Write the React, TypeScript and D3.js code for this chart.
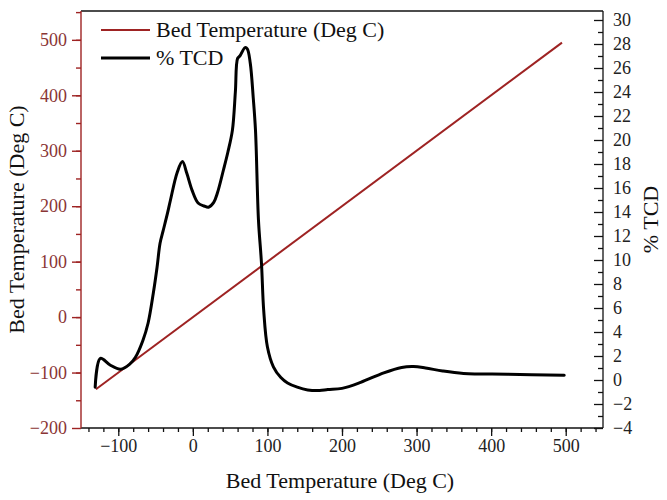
import { useEffect, useRef } from "react";
import * as d3 from "d3";

// bed temperature sweep (the reference line is temperature vs itself)
const bedTempRange = [-130, 495];

// % TCD signal sampled along the bed temperature
const tcdTemps = [
  -131, -124, -111, -97, -85, -77, -67, -60, -53, -48, -44, -40, -34, -30, -21, -14, -8, -1, 7, 15,
  21, 28, 33, 41, 47, 53, 57, 60, 63, 70, 73, 77, 81, 84, 88, 92, 95, 100, 108, 118, 127, 140, 154,
  170, 181, 200, 225, 256, 280, 296, 312, 335, 363, 422, 498,
];
const tcdValues = [
  -0.6, 1.8, 1.25, 0.9, 1.3, 1.9, 3.3, 4.75, 7.25, 9.4, 11.4, 12.4, 13.9, 15, 17.3, 18.2, 17.2, 15.8,
  14.75, 14.5, 14.4, 14.8, 15.6, 17.5, 19, 20.8, 24, 26.8, 27.0, 27.7, 27.6, 26.4, 23.5, 20.8, 13.3,
  9.75, 5.8, 2.75, 1.1, 0.2, -0.25, -0.6, -0.83, -0.88, -0.8, -0.7, -0.2, 0.6, 1.05, 1.12, 1.0, 0.75,
  0.55, 0.48, 0.4,
];

const xTicks = [-100, 0, 100, 200, 300, 400, 500];
const leftTicks = [-200, -100, 0, 100, 200, 300, 400, 500];
const rightTicks = [-4, -2, 0, 2, 4, 6, 8, 10, 12, 14, 16, 18, 20, 22, 24, 26, 28, 30];

const seriesNames = ["Bed Temperature (Deg C)", "% TCD"];

export default function App() {
  const svgRef = useRef<SVGSVGElement | null>(null);

  useEffect(() => {
    const width = 667;
    const height = 500;
    const left = 81;
    const right = 603;
    const top = 11;
    const bottom = 428;
    const font = "'Liberation Serif', 'Times New Roman', serif";
    const red = "#9e2323";
    const redText = "#8a3535";
    const minus = (d: d3.NumberValue) => d3.format("d")(d as number).replace("-", "\u2212");

    const svg = d3.select(svgRef.current);
    svg.selectAll("*").remove();
    svg.attr("width", width).attr("height", height).attr("viewBox", `0 0 ${width} ${height}`)
      .attr("font-family", font);

    const x = d3.scaleLinear().domain([-150, 550]).range([left, right]);
    const yL = d3.scaleLinear().domain([-200, 552]).range([bottom, top]);
    const yR = d3.scaleLinear().domain([-4, 30.75]).range([bottom, top]);

    // top frame line
    svg.append("line")
      .attr("x1", left).attr("x2", right)
      .attr("y1", top).attr("y2", top)
      .attr("stroke", "#111").attr("stroke-width", 1.3);

    // bottom axis: majors every 100, minors every 20
    const gx = svg.append("g").attr("transform", `translate(0,${bottom})`);
    gx.call(d3.axisBottom(x).tickValues(d3.range(-140, 550, 20)).tickSize(4).tickFormat(() => ""))
      .call(g => g.select(".domain").remove());
    gx.append("g")
      .call(d3.axisBottom(x).tickValues(xTicks).tickSize(8).tickPadding(3).tickFormat(minus))
      .call(g => g.select(".domain").remove());
    gx.append("line").attr("x1", left).attr("x2", right);
    gx.selectAll("line").attr("stroke", "#111").attr("stroke-width", 1.3);
    gx.selectAll("g").attr("font-family", font);
    gx.selectAll("text").attr("fill", "#222").style("font-family", font).style("font-size", "18px");

    // left axis (bed temperature), dark red
    const gl = svg.append("g").attr("transform", `translate(${left},0)`);
    gl.call(d3.axisLeft(yL).tickValues(d3.range(-150, 552, 50)).tickSize(5).tickFormat(() => ""))
      .call(g => g.select(".domain").remove());
    gl.append("g")
      .call(d3.axisLeft(yL).tickValues(leftTicks).tickSize(9).tickPadding(5).tickFormat(minus))
      .call(g => g.select(".domain").remove());
    gl.append("line").attr("y1", top).attr("y2", bottom);
    gl.selectAll("line").attr("stroke", red).attr("stroke-width", 1.4);
    gl.selectAll("g").attr("font-family", font);
    gl.selectAll("text").attr("fill", redText).style("font-family", font).style("font-size", "18px");

    // right axis (% TCD), ticks pointing inward
    const gr = svg.append("g").attr("transform", `translate(${right},0)`);
    gr.call(d3.axisLeft(yR).tickValues(d3.range(-3, 31, 2)).tickSize(5).tickFormat(() => ""))
      .call(g => g.select(".domain").remove());
    gr.append("g")
      .call(d3.axisLeft(yR).tickValues(rightTicks).tickSize(9).tickFormat(() => ""))
      .call(g => g.select(".domain").remove());
    gr.append("g")
      .call(d3.axisRight(yR).tickValues(rightTicks).tickSize(0).tickPadding(10).tickFormat(minus))
      .call(g => g.select(".domain").remove());
    gr.append("line").attr("y1", top).attr("y2", bottom);
    gr.selectAll("line").attr("stroke", "#111").attr("stroke-width", 1.3);
    gr.selectAll("g").attr("font-family", font);
    gr.selectAll("text").attr("fill", "#222").style("font-family", font).style("font-size", "18px");

    // axis titles
    svg.append("text")
      .attr("x", (left + right) / 2 - 2).attr("y", 488)
      .attr("text-anchor", "middle")
      .style("font-family", font).style("font-size", "22px").attr("fill", "#111")
      .text("Bed Temperature (Deg C)");
    svg.append("text")
      .attr("transform", `translate(24,${(top + bottom) / 2}) rotate(-90)`)
      .attr("text-anchor", "middle")
      .style("font-family", font).style("font-size", "22px").attr("fill", "#111")
      .text("Bed Temperature (Deg C)");
    svg.append("text")
      .attr("transform", `translate(658,${(top + bottom) / 2}) rotate(-90)`)
      .attr("text-anchor", "middle")
      .style("font-family", font).style("font-size", "22px").attr("fill", "#111")
      .text("% TCD");

    // bed temperature line (y = x)
    const bedLine = d3.line<number>().x(d => x(d)).y(d => yL(d));
    svg.append("path")
      .attr("d", bedLine(bedTempRange))
      .attr("fill", "none").attr("stroke", red).attr("stroke-width", 2);

    // % TCD curve
    const tcd = tcdTemps.map((t, i) => [t, tcdValues[i]] as [number, number]);
    const tcdLine = d3.line<[number, number]>()
      .x(d => x(d[0])).y(d => yR(d[1]))
      .curve(d3.curveCatmullRom.alpha(0.5));
    svg.append("path")
      .attr("d", tcdLine(tcd))
      .attr("fill", "none").attr("stroke", "#000").attr("stroke-width", 3)
      .attr("stroke-linejoin", "round").attr("stroke-linecap", "round");

    // legend
    const legend = svg.append("g");
    const colors = [red, "#000"];
    const widths = [2, 3];
    seriesNames.forEach((name, i) => {
      const ly = 30 + i * 28;
      legend.append("line")
        .attr("x1", 101).attr("x2", 150).attr("y1", ly).attr("y2", ly)
        .attr("stroke", colors[i]).attr("stroke-width", widths[i]);
      legend.append("text")
        .attr("x", 156).attr("y", ly + 7)
        .style("font-family", font).style("font-size", "22px").attr("fill", "#111")
        .text(name);
    });
  }, []);

  return (
    <div style={{ position: "absolute", left: 0, top: 0, background: "#fff" }}>
      <svg ref={svgRef} style={{ display: "block" }} />
    </div>
  );
}
